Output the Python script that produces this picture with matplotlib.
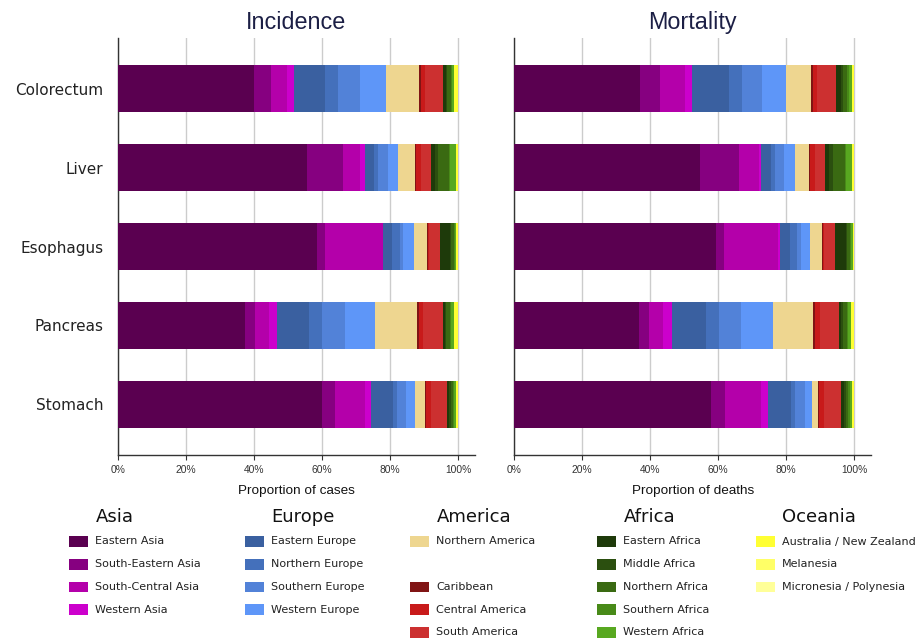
import matplotlib
matplotlib.use("Agg")
import matplotlib.pyplot as plt
from matplotlib.patches import Rectangle
import numpy as np

cancers = ["Colorectum", "Liver", "Esophagus", "Pancreas", "Stomach"]

regions = ["Eastern Asia", "South-Eastern Asia", "South-Central Asia", "Western Asia",
           "Eastern Europe", "Northern Europe", "Southern Europe", "Western Europe",
           "Northern America", "Caribbean", "Central America", "South America",
           "Eastern Africa", "Middle Africa", "Northern Africa", "Southern Africa", "Western Africa",
           "Australia / New Zealand", "Melanesia", "Micronesia / Polynesia"]

colors = ["#5a0050", "#860080", "#b400aa", "#cc00cc",
          "#3a60a0", "#4470bb", "#5282d8", "#5e96f8",
          "#eed690", "#801414", "#c81a1a", "#cc3030",
          "#1e3a0a", "#2b4f0f", "#3a6a12", "#488a18", "#58a820",
          "#ffff33", "#ffff66", "#ffff99"]

# Proportion of cases (%) by region, one list per cancer (order as `regions`)
inc_colorectum = [40.0, 5.0, 4.7, 2.2, 8.9, 4.0, 6.5, 7.5, 9.7, 0.5, 1.3, 5.2, 0.9, 0.5, 1.0, 0.4, 0.5, 1.1, 0.05, 0.05]
inc_liver      = [55.5, 10.6, 5.2, 1.4, 2.5, 1.4, 2.9, 2.9, 4.9, 0.3, 1.4, 3.0, 1.1, 0.9, 3.4, 0.2, 1.9, 0.4, 0.05, 0.05]
inc_esophagus  = [58.6, 2.2, 17.0, 0.2, 2.5, 2.4, 1.0, 3.1, 3.9, 0.3, 0.3, 3.1, 3.0, 0.4, 0.8, 0.4, 0.3, 0.4, 0.05, 0.05]
inc_pancreas   = [37.3, 2.9, 4.1, 2.4, 9.4, 4.0, 6.6, 8.8, 12.4, 0.5, 1.4, 5.8, 0.5, 0.5, 1.1, 0.3, 0.9, 1.0, 0.05, 0.05]
inc_stomach    = [60.0, 3.8, 8.8, 1.9, 6.3, 1.2, 2.6, 2.7, 2.9, 0.4, 1.4, 4.8, 0.5, 0.5, 0.7, 0.4, 0.6, 0.4, 0.05, 0.05]

# Proportion of deaths (%)
mort_colorectum = [37.0, 5.8, 7.3, 2.3, 10.7, 3.8, 6.0, 7.1, 7.3, 0.6, 1.2, 5.5, 1.5, 0.5, 1.4, 0.4, 0.8, 0.6, 0.1, 0.1]
mort_liver      = [54.7, 11.3, 6.1, 0.4, 2.9, 1.3, 2.7, 3.1, 4.2, 0.4, 1.3, 3.0, 1.2, 1.1, 3.6, 0.2, 1.9, 0.4, 0.1, 0.1]
mort_esophagus  = [59.2, 2.4, 16.0, 0.5, 3.0, 2.0, 1.2, 2.8, 3.4, 0.4, 0.3, 3.0, 3.3, 0.4, 0.7, 0.5, 0.5, 0.2, 0.1, 0.1]
mort_pancreas   = [36.6, 3.0, 4.1, 2.7, 10.0, 3.7, 6.6, 9.4, 11.7, 0.6, 1.4, 5.7, 0.7, 0.5, 1.1, 0.4, 0.8, 0.9, 0.05, 0.05]
mort_stomach    = [57.8, 4.2, 10.5, 2.2, 6.7, 1.1, 3.0, 2.1, 1.8, 0.3, 1.4, 5.0, 0.8, 0.6, 0.7, 0.6, 0.6, 0.5, 0.05, 0.05]

x_ticks = [0, 20, 40, 60, 80, 100]
x_ticklabels = ["0%", "20%", "40%", "60%", "80%", "100%"]

legend_groups = [
    ("Asia", [0, 1, 2, 3], [0, 1, 2, 3]),
    ("Europe", [4, 5, 6, 7], [0, 1, 2, 3]),
    ("America", [8, 9, 10, 11], [0, 2, 3, 4]),
    ("Africa", [12, 13, 14, 15, 16], [0, 1, 2, 3, 4]),
    ("Oceania", [17, 18, 19], [0, 1, 2]),
]

W, H = 920, 643
fig = plt.figure(figsize=(W / 100, H / 100), dpi=100)

def fx(px):
    return px / W

def fy(py):
    return 1 - py / H

title_color = "#1c1f45"
panels = [
    ("Incidence", "Proportion of cases",
     [inc_colorectum, inc_liver, inc_esophagus, inc_pancreas, inc_stomach], 118, True),
    ("Mortality", "Proportion of deaths",
     [mort_colorectum, mort_liver, mort_esophagus, mort_pancreas, mort_stomach], 514.3, False),
]

for title, xlabel, data, left_px, show_labels in panels:
    ax = fig.add_axes([fx(left_px), fy(455), fx(357), (455 - 38) / H])
    arr = np.array(data)  # cancers x regions
    y = np.arange(len(cancers))
    lefts = np.zeros(len(cancers))
    for j in range(len(regions)):
        ax.barh(y, arr[:, j], left=lefts, height=0.6, color=colors[j],
                edgecolor="none", linewidth=0, zorder=3)
        lefts += arr[:, j]
    ax.set_xlim(0, 105)
    ax.set_ylim(4.64, -0.64)
    ax.set_xticks(x_ticks)
    ax.set_xticklabels(x_ticklabels, fontsize=7.4, family="Liberation Sans", color="#333333")
    ax.grid(axis="x", color="#cccccc", linewidth=1.0, zorder=0)
    ax.set_axisbelow(True)
    for s in ["top", "right"]:
        ax.spines[s].set_visible(False)
    ax.spines["left"].set_color("#333333")
    ax.spines["bottom"].set_color("#333333")
    ax.spines["left"].set_linewidth(1.0)
    ax.spines["bottom"].set_linewidth(1.0)
    ax.tick_params(axis="x", length=3.5, width=0.8, color="#333333", pad=3.5)
    ax.tick_params(axis="y", length=0, pad=10.5)
    ax.set_yticks(y)
    if show_labels:
        ax.set_yticklabels(cancers, fontsize=11, family="DejaVu Sans", color="#222222")
    else:
        ax.set_yticklabels([])
    ax.set_title(title, fontsize=16.8, family="Liberation Sans", color=title_color, pad=6.5)
    ax.set_xlabel(xlabel, fontsize=9.7, family="Liberation Sans", color="#111111", labelpad=7.5)

# Legend drawn manually in figure coordinates
col_patch_x = [69, 245, 410, 597, 756]
row_y = [541.5, 564.2, 587, 609.7, 632.4]
for (header, idxs, rows), px in zip(legend_groups, col_patch_x):
    fig.text(fx(px + 26.5), fy(516.5), header, fontsize=13, family="DejaVu Sans",
             color="#111111", ha="left", va="center")
    for idx, r in zip(idxs, rows):
        yy = row_y[r]
        fig.patches.append(Rectangle((fx(px), fy(yy + 5.3)), 19 / W, 10.6 / H,
                                     transform=fig.transFigure, facecolor=colors[idx],
                                     edgecolor="none"))
        fig.text(fx(px + 26), fy(yy), regions[idx], fontsize=8, family="DejaVu Sans",
                 color="#222222", ha="left", va="center")

fig.savefig("out.png", dpi=100, facecolor="white")
